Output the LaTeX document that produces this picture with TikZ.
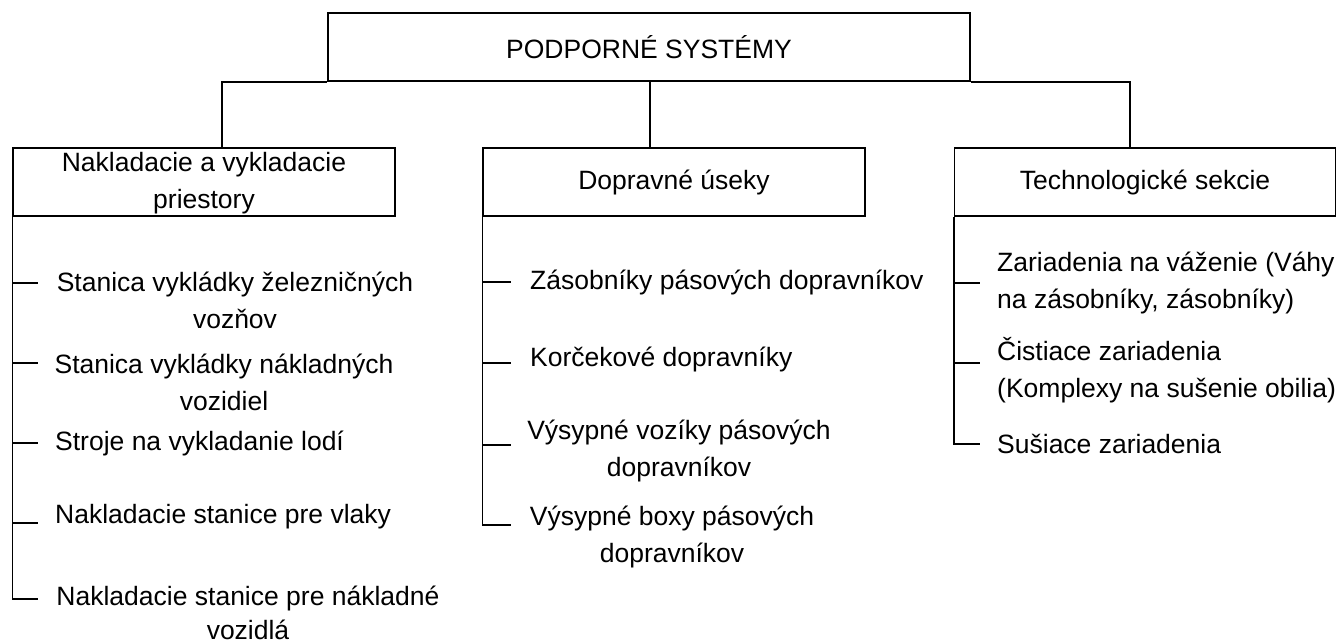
\documentclass[tikz,border=0pt]{standalone}
\usepackage{fontspec}
\setmainfont{Liberation Sans}
\usetikzlibrary{positioning}

\begin{document}
\begin{tikzpicture}[
    x=1pt, y=-1pt,
    font=\fontsize{26.5}{37}\selectfont,
    box/.style={
        rectangle,
        draw=black,
        line width=1.5pt,
        minimum height=68pt,
        inner sep=0pt,
        align=center
    },
    item/.style={
        inner sep=0pt,
        align=center
    },
    itemleft/.style={
        inner sep=0pt,
        anchor=west,
        align=left
    },
    link/.style={
        line width=1.5pt,
        draw=black
    }
]

% Page size
\useasboundingbox (0,0) rectangle (1338,643);

% Root
\node[box, minimum width=642pt] (root) at (649,47) {PODPORNÉ SYSTÉMY};

% Second level
\node[box, minimum width=382pt] (nakl) at (204,182) {\rule{0pt}{22pt}Nakladacie a vykladacie\\priestory};
\node[box, minimum width=382pt] (dopr) at (674,182) {Dopravné úseky};
\node[box, minimum width=381pt] (tech) at (1145,182) {Technologické sekcie};

% Tree lines from the root
\draw[link] ([xshift=18pt]nakl.north) |- (root.south west);
\draw[link] ([xshift=-24pt]dopr.north) -- ([xshift=-24pt]dopr.north |- root.south);
\draw[link] ([xshift=-15pt]tech.north) |- (root.south east);

% Left branch - Nakladacie a vykladacie priestory
\node[item] (nakl1) at (235,300) {Stanica vykládky železničných\\vozňov};
\node[item] (nakl2) at (224,382) {Stanica vykládky nákladných\\vozidiel};
\node[itemleft] (nakl3) at (55,443) {Stroje na vykladanie lodí};
\node[itemleft] (nakl4) at (55,517) {Nakladacie stanice pre vlaky};
\node[item] (nakl5) at (248,613) {Nakladacie stanice pre nákladné\\[-3pt]vozidlá};

\coordinate (nt1) at (38,283);
\coordinate (nt2) at (38,363);
\coordinate (nt3) at (38,443);
\coordinate (nt4) at (38,523);
\coordinate (nt5) at (38,599);

\draw[link] (nakl.south west) |- (nt5);
\draw[link] (nakl.south west |- nt1) -- (nt1);
\draw[link] (nakl.south west |- nt2) -- (nt2);
\draw[link] (nakl.south west |- nt3) -- (nt3);
\draw[link] (nakl.south west |- nt4) -- (nt4);

% Middle branch - Dopravne useky
\node[itemleft] (dopr1) at (530,282) {Zásobníky pásových dopravníkov};
\node[itemleft] (dopr2) at (530,359) {Korčekové dopravníky};
\node[item] (dopr3) at (679,451) {Výsypné vozíky pásových\\dopravníkov};
\node[item] (dopr4) at (672,537) {Výsypné boxy pásových\\dopravníkov};

\coordinate (dt1) at (511,282);
\coordinate (dt2) at (511,363);
\coordinate (dt3) at (511,445);
\coordinate (dt4) at (511,525);

\draw[link] (dopr.south west) |- (dt4);
\draw[link] (dopr.south west |- dt1) -- (dt1);
\draw[link] (dopr.south west |- dt2) -- (dt2);
\draw[link] (dopr.south west |- dt3) -- (dt3);

% Right branch - Technologicke sekcie
\node[itemleft] (tech1) at (997,283) {Zariadenia na váženie (Váhy\\na zásobníky, zásobníky)};
\node[itemleft] (tech2) at (997,370) {Čistiace zariadenia\\(Komplexy na sušenie obilia)};
\node[itemleft] (tech3) at (997,444) {Sušiace zariadenia};

\coordinate (tt1) at (980,283);
\coordinate (tt2) at (980,363);
\coordinate (tt3) at (980,444);

\draw[link] (tech.south west) |- (tt3);
\draw[link] (tech.south west |- tt1) -- (tt1);
\draw[link] (tech.south west |- tt2) -- (tt2);

\end{tikzpicture}
\end{document}
